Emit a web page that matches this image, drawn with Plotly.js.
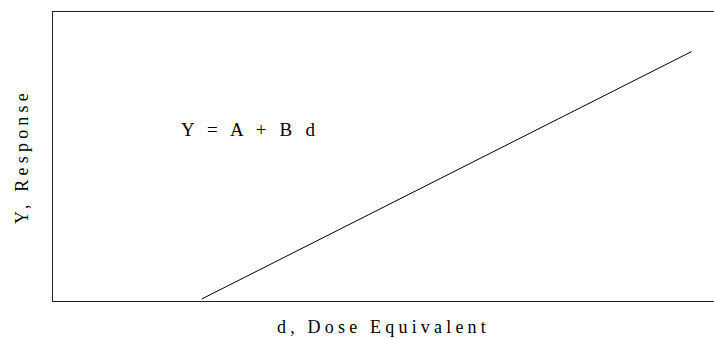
<!DOCTYPE html>
<html>
<head>
<meta charset="utf-8">
<script src="https://cdn.plot.ly/plotly-3.0.1.min.js"></script>
<style>
  html, body { margin: 0; padding: 0; background: #fff; }
  #chart { width: 714px; height: 339px; }
  #chart text { letter-spacing: 4.2px; }
</style>
</head>
<body>
<div id="chart"></div>
<script>
// Dose equivalent (arbitrary units, axis 0-100) and response
const doseValues = [22.5, 96.6];
const responseValues = [0.7, 86.3];
const equationText = "Y = A + B d";
const xTitleText = "d, Dose Equivalent";
const yTitleText = "Y, Response";

const fontFamily = "Liberation Serif";

const trace = {
  x: doseValues,
  y: responseValues,
  type: "scatter",
  mode: "lines",
  line: { color: "#000", width: 1 },
  hoverinfo: "skip",
  showlegend: false
};

const layout = {
  width: 714,
  height: 339,
  margin: { l: 53, r: 0, t: 12, b: 38 },
  paper_bgcolor: "#fff",
  plot_bgcolor: "#fff",
  font: { family: fontFamily, color: "#000", size: 18 },
  xaxis: {
    range: [0, 100],
    showline: true, mirror: true, linecolor: "#222", linewidth: 1,
    showgrid: false, zeroline: false, showticklabels: false, ticks: "",
    title: { text: xTitleText, font: { family: fontFamily, size: 18, color: "#000" }, standoff: 19 },
    fixedrange: true
  },
  yaxis: {
    range: [0, 100],
    showline: true, mirror: false, linecolor: "#222", linewidth: 1,
    showgrid: false, zeroline: false, showticklabels: false, ticks: "",
    title: { text: yTitleText, font: { family: fontFamily, size: 18, color: "#000" }, standoff: 18 },
    fixedrange: true
  },
  annotations: [{
    text: equationText,
    xref: "paper", yref: "paper",
    x: (250 - 53) / 661, y: (301 - 129) / 289,
    xanchor: "center", yanchor: "middle",
    showarrow: false,
    font: { family: fontFamily, size: 19, color: "#000" }
  }]
};

Plotly.newPlot("chart", [trace], layout, { staticPlot: true, displayModeBar: false });
</script>
</body>
</html>
